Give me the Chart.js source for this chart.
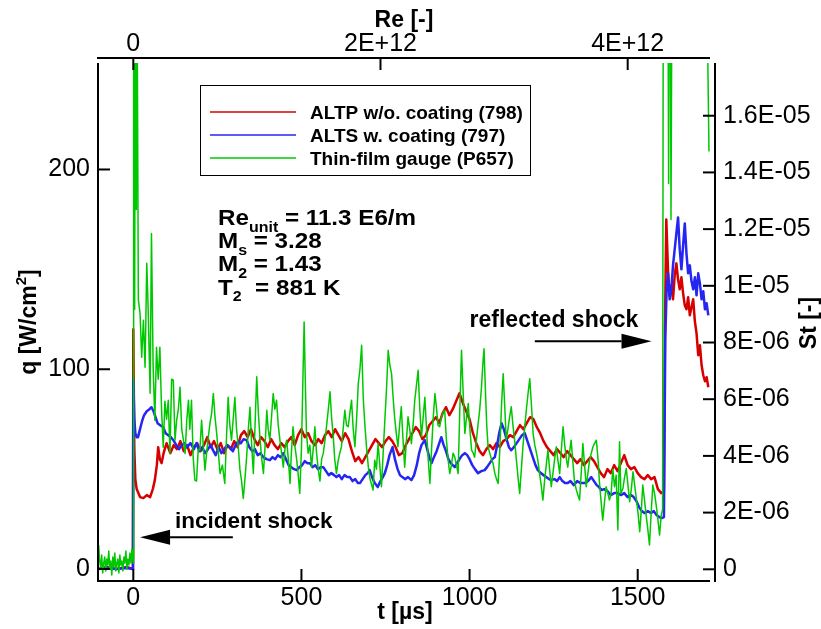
<!DOCTYPE html>
<html><head><meta charset="utf-8">
<script src="https://cdn.jsdelivr.net/npm/chart.js@4/dist/chart.umd.min.js"></script>
<style>html,body{margin:0;padding:0;background:#fff;}canvas{display:block;}</style>
</head><body>
<canvas id="c" width="821" height="629"></canvas>
<script>
// ---------- categories / labels ----------
const seriesNames = ['ALTP w/o. coating (798)', 'ALTS w. coating (797)', 'Thin-film gauge (P657)'];
const seriesColors = ['#d60000', '#2626f2', '#00c800'];
const tTicks = [0, 500, 1000, 1500];
const qTicks = [0, 100, 200];
const reTicks = [0, 2e12, 4e12];
const reTickLabels = ['0', '2E+12', '4E+12'];
const stTicks = [0, 2e-6, 4e-6, 6e-6, 8e-6, 1e-5, 1.2e-5, 1.4e-5, 1.6e-5];
const stTickLabels = ['0', '2E-06', '4E-06', '6E-06', '8E-06', '1E-05', '1.2E-05', '1.4E-05', '1.6E-05'];
const infoLines = [
  [['Re', ''], ['unit', 'sub'], [' = 11.3 E6/m', '']],
  [['M', ''], ['s', 'sub'], [' = 3.28', '']],
  [['M', ''], ['2', 'sub'], [' = 1.43', '']],
  [['T', ''], ['2', 'sub'], ['  = 881 K', '']]
];

// ---------- series values: [t (µs), q (W/cm²)] ----------
const altpData = [[-105,0],[-80,1],[-50,0],[-20,1],[-1,0],[0,120],[3,60],[6,45],[10,40],[15,38],[20,36],[30,35.5],[40,37],[50,36],[58,40],[64,44.5],[70,52],[74,61],[79,55],[84,53],[90,58],[99,63],
[110,58],[120,62],[130,60],[140,64],[150,59],[160,62],[170,57],[180,61],[190,63],[200,59],[210,62],[220,66],[230,61],[240,64],[250,60],[260,63],[270,58],[280,62],[290,60],[300,64],[310,61],[320,67],[330,69],[340,66],[350,70],[360,65],[370,62],[380,66],[390,64],[400,61],[410,65],[420,62],[430,60],[440,63],[450,61],[460,64],[470,66],[480,62],[490,67],[500,70],[510,66],[520,68],[530,64],[540,62],[550,65],[560,63],[570,67],[580,69],[590,66],[600,70],[610,67],[620,64],[630,68],[640,65],[650,59],[660,54],[670,56],[680,53],[690,56],[700,59],[710,62],[720,65],[730,63],[740,61],[750,64],[760,66],[770,64],[780,61],[790,57],[800,58],[810,62],[820,65],[830,68],[840,71],[850,69],[860,65],[870,67],[880,72],[890,74],[900,76],[910,73],[920,78],[930,81],[940,77],[950,80],[960,84],[970,88],[980,83],[990,79],[1000,75],[1010,68],[1020,63],[1030,59],[1040,57],[1050,60],[1060,62],[1070,60],[1080,63],[1090,61],[1100,64],[1110,65],[1120,67],[1130,66],[1140,69],[1150,72],[1160,70],[1170,73],[1180,76],[1190,75],[1200,71],[1210,68],[1220,64],[1230,61],[1240,59],[1250,57],[1260,60],[1270,58],[1280,56],[1290,59],[1300,57],[1310,55],[1320,53],[1330,55],[1340,52],[1350,54],[1360,56],[1370,54],[1380,51],[1390,48],[1400,46],[1410,50],[1420,48],[1430,52],[1440,49],[1450,53],[1460,57],[1470,52],[1480,50],[1490,51],[1500,48],[1510,46],[1520,45],[1530,47],[1540,45],[1550,46],[1560,40],[1570,38],[1578,39],[1581,120],[1585,175],[1590,150],[1595,137],[1600,142],[1605,135],[1610,147],[1615,153],[1620,145],[1625,140],[1630,146],[1635,138],[1640,132],[1645,130],[1650,136],[1655,127],[1660,131],[1665,135],[1670,124],[1675,118],[1680,107],[1685,112],[1690,102],[1695,97],[1700,94],[1705,96],[1710,91]];

const altsData = [[-105,0],[-80,0.5],[-50,0],[-20,0.5],[-1,0],[0,95],[3,75],[6,68],[10,66],[14,66],[20,70],[26,74],[32,77],[40,79],[48,80],[54,81],[60,79],[66,76],[72,73],[80,72],[89,71],[96,68],[104,67],[112,66],[119,64.5],[128,62],[136,60],[144,62],[152,63],[160,61],[170,63],[180,60],[188,63],[196,59],[205,61],[213,58],[222,60],[230,62],[237,59.5],[245,57],[254,61],[262,58],[270,60],[279,62],[287,61],[296,59],[304,62],[312,64],[320,63],[328,65],[337,64.5],[345,61],[354,59],[362,60],[370,57],[378,58],[387,56],[396,55],[406,54.5],[414,56],[422,55],[430,57],[438,56],[446,58],[454,55],[462,52],[470,51],[478,50],[486,49.5],[494,51],[502,52],[510,54],[518,53],[525,53],[533,51],[541,52],[549,50],[557,51],[565,51],[573,49],[581,47],[589,48],[597,47],[604,46],[612,47],[620,45],[628,47],[636,46],[644,46],[652,44],[660,45],[668,43],[674,43],[682,45],[690,47],[697,48],[703,49.5],[710,46],[718,43],[727,41],[735,44],[742,46],[748,48],[755,52],[762,57],[771,61],[778,55],[786,50],[793,47],[800,46],[808,45],[817,46],[827,44.5],[835,47],[843,52],[850,58],[857,62],[867,64.5],[874,60],[880,56],[887,53],[894,56],[902,59],[910,63],[916,66],[923,62],[930,59],[937,55],[944,53],[950,52],[956,51],[963,53],[970,55],[978,57],[986,58],[993,57],[1000,55],[1008,52],[1016,50],[1025,48],[1035,49],[1045,49.5],[1052,51],[1060,53],[1068,55],[1075,56],[1082,62],[1088,68],[1095,73],[1102,70],[1110,65],[1117,61],[1124,59.5],[1132,61],[1140,63],[1148,65],[1156,67],[1164,68],[1172,64],[1180,60],[1188,56],[1196,52],[1203,49.5],[1212,48],[1220,47],[1228,46],[1236,45],[1243,44.5],[1252,45],[1260,44],[1268,46],[1276,44],[1284,43],[1292,43],[1300,44],[1310,42],[1320,44],[1330,43],[1342,43],[1352,44],[1362,46],[1370,44],[1378,42],[1385,41],[1392,39.5],[1400,40],[1410,39],[1420,37],[1430,38],[1441,38],[1450,37],[1460,38],[1470,36],[1480,37],[1488,36],[1496,34],[1504,31],[1512,29],[1520,28],[1530,29],[1540,28],[1548,29],[1556,27],[1564,26],[1572,25.5],[1578,26],[1582,115],[1586,140],[1590,148],[1595,135],[1600,140],[1605,152],[1610,160],[1615,168],[1620,176],[1625,160],[1630,150],[1635,162],[1640,173],[1645,158],[1650,148],[1655,152],[1660,144],[1665,140],[1670,146],[1675,137],[1680,148],[1685,143],[1690,135],[1695,139],[1700,130],[1705,133],[1710,127]];

const tfgData = [[-103,12],[-100,4],[-97,1],[-94,7],[-91,-2],[-88,3],[-85,6],[-82,-1],[-79,5],[-76,2],[-73,9],[-70,0],[-67,4],[-64,-3],[-61,6],[-58,1],[-55,8],[-52,-1],[-49,3],[-46,5],[-43,-2],[-40,7],[-37,2],[-34,4],[-31,-1],[-28,6],[-25,3],[-22,9],[-19,0],[-16,5],[-13,2],[-10,8],[-7,3],[-4,10],[-1,4],
[0,3],[1,300],[4,130],[6,300],[9,180],[11,300],[15,135],[20,128],[25,106],[30,124.5],[35,101],[40,153],[44,131],[50,88],[54,168],[59,101],[64,74.5],[69,111],[74,95],[79,111],[84,80],[89,61],[94,84],[99,75],[104,84.5],[109,58],[114,95],[119,94.5],[124,64.5],[129,74.5],[134,80],[139,91],[144,70],[149,64.5],[154,57.8],[159,74.5],[164,84.5],[168,70],[173,84.5],[178,56],[183,44.5],[188,44],[193,60],[198,59.5],[203,74.5],[208,62],[213,49.5],[218,58],[223,66],[228,73],[233,78],[238,87.8],[243,76],[248,67.8],[253,58],[258,47.8],[265,52],[272,42.8],[277,65],[282,86],[287,72],[292,64.5],[297,75],[302,86],[307,70],[312,61.2],[317,50],[322,44],[327,35.3],[332,45],[337,56],[342,70],[347,81],[352,62],[357,47.8],[362,72],[367,96.2],[372,78],[377,64.5],[382,55],[387,47.8],[392,62],[397,79.5],[401,70],[406,64.5],[411,76],[416,87.8],[421,80],[426,84.5],[431,72],[436,64.5],[441,58],[446,51],[451,60],[456,64.5],[461,55],[466,42.8],[470,58],[475,71.2],[480,62],[485,56],[490,48],[495,37.8],[500,60],[505,100],[508,123.7],[512,90],[515,67.8],[520,58],[525,62],[530,51],[535,60],[540,71.2],[545,58],[550,50],[555,44],[560,55],[565,58],[570,64.5],[575,72],[580,80],[585,88.7],[590,75],[594,67.8],[599,55],[604,47.8],[609,54],[614,58],[619,61.2],[624,70],[629,79.5],[634,72],[639,71.2],[644,78],[649,84.5],[654,70],[659,61.2],[664,75],[669,92.8],[674,100],[679,112],[684,85],[689,71.2],[694,60],[699,51],[704,45],[709,42],[713,39.5],[718,54.5],[723,50],[728,62.8],[733,52],[738,41.2],[743,58],[748,74.5],[753,90],[758,109.5],[763,102],[768,97.8],[773,85],[777,76.2],[782,68],[787,61.2],[792,72],[797,81.2],[802,65],[807,51],[812,64],[817,76.2],[822,70],[827,62.8],[832,72],[837,84.5],[842,92],[847,99.5],[852,80],[857,66.2],[862,76],[867,86],[872,70],[877,55],[882,42.8],[887,60],[892,76],[897,87.8],[902,80],[906,72],[911,71.2],[916,76],[921,78],[926,79.5],[931,65],[936,55],[941,47.8],[946,52],[951,58],[956,56],[961,52],[966,47.8],[971,80],[976,109.5],[981,88],[986,67.8],[991,76],[996,82.8],[1001,70],[1006,59.5],[1011,58],[1015,56],[1020,64],[1025,72],[1030,79.5],[1035,90],[1040,104],[1043,110.3],[1047,90],[1051,72],[1055,61.2],[1060,58],[1065,55],[1070,52.8],[1075,48],[1080,45],[1085,42.8],[1090,60],[1095,82],[1100,97.8],[1105,80],[1109,64.5],[1114,70],[1119,76],[1124,81.2],[1129,72],[1134,64.5],[1139,55],[1144,46],[1149,37.8],[1154,50],[1159,62],[1164,71.2],[1169,80],[1174,88],[1179,95.3],[1184,82],[1189,67.8],[1194,62],[1199,58],[1203,54.5],[1208,48],[1213,42],[1218,34.5],[1223,44],[1228,52],[1233,59.5],[1238,50],[1243,41.2],[1248,48],[1253,55],[1258,61.2],[1263,54],[1268,47.8],[1273,60],[1278,71.2],[1283,62],[1288,55],[1292,51],[1297,58],[1302,64.5],[1307,54],[1312,44],[1317,40],[1322,37],[1327,34.5],[1332,48],[1337,62.8],[1342,52],[1347,41.2],[1352,48],[1357,54.5],[1362,58],[1367,61.2],[1372,63],[1377,64.5],[1382,55],[1386,44],[1391,34],[1396,24.5],[1401,33],[1406,41.2],[1411,38],[1416,34.5],[1421,38],[1426,50],[1431,41.2],[1436,47],[1441,19.5],[1446,63.7],[1450,37.8],[1456,40.3],[1461,46],[1466,50.3],[1471,42],[1476,33.7],[1481,40],[1486,48.7],[1491,42],[1496,35.3],[1501,28],[1506,18.7],[1511,30],[1515,42],[1520,35],[1525,27],[1530,20],[1535,12],[1540,28],[1545,42],[1550,38],[1555,32],[1560,25],[1565,17],[1570,27],[1574,30],[1576,300],[1590,300],[1592,193],[1594,300],[1597,300],[1599,175],[1602,300],[1705,300],[1712,209]];

// ---------- axis ranges ----------
const tRange = [-105, 1715];
const qRange = [-6, 253.3];
const reRange = [-2.856e11, 4.666e12];
const stRange = [-0.413e-6, 17.86e-6];

Chart.defaults.font.family = "'Liberation Sans', Arial, Helvetica, sans-serif";
Chart.defaults.color = '#000';

const FS = 25;
const tickFont = { size: FS, family: "'Liberation Sans', Arial, sans-serif" };

function setTicks(vals) { return s => { s.ticks = vals.map(v => ({ value: v })); }; }

function richText(ctx, x, y, segs, size, align, sx) {
  sx = sx || 1;
  const measure = [];
  let total = 0;
  for (const [txt, kind] of segs) {
    const fs = kind ? size * 0.66 : size;
    ctx.font = `bold ${fs}px 'Liberation Sans', Arial, sans-serif`;
    const w = ctx.measureText(txt).width;
    measure.push([txt, kind, fs, w]);
    total += w;
  }
  ctx.save();
  ctx.translate(x, y);
  ctx.scale(sx, 1);
  let cx = align === 'center' ? -total / 2 : 0;
  for (const [txt, kind, fs, w] of measure) {
    ctx.font = `bold ${fs}px 'Liberation Sans', Arial, sans-serif`;
    const dy = kind === 'sub' ? size * 0.3 : kind === 'sup' ? -size * 0.42 : 0;
    ctx.fillText(txt, cx, dy);
    cx += w;
  }
  ctx.restore();
}

const decorPlugin = {
  id: 'decor',
  afterDatasetsDraw(chart) {
    const { ctx, chartArea: a, scales } = chart;
    ctx.save();
    ctx.strokeStyle = '#000';
    ctx.fillStyle = '#000';
    ctx.lineWidth = 2;
    const seg = (x1, y1, x2, y2) => { ctx.beginPath(); ctx.moveTo(x1, y1); ctx.lineTo(x2, y2); ctx.stroke(); };
    const off = 5, TL = 12;
    // axis lines
    seg(a.left - 1, a.bottom, a.right, a.bottom);
    seg(a.left, a.top, a.left, a.bottom + 1);
    seg(a.left - 1, a.top - off, a.right, a.top - off);
    seg(a.right + off, a.top, a.right + off, a.bottom + 1);
    // tick marks (inward)
    scales.x.ticks.forEach(t => { const p = scales.x.getPixelForValue(t.value); seg(p, a.bottom, p, a.bottom - TL); });
    scales.x2.ticks.forEach(t => { const p = scales.x2.getPixelForValue(t.value); seg(p, a.top - off, p, a.top - off + TL); });
    scales.y.ticks.forEach(t => { const p = scales.y.getPixelForValue(t.value); seg(a.left, p, a.left + TL, p); });
    scales.y2.ticks.forEach(t => { const p = scales.y2.getPixelForValue(t.value); seg(a.right + off, p, a.right + off - TL, p); });

    // arrows (positioned in data units)
    const X = v => scales.x.getPixelForValue(v), Y = v => scales.y.getPixelForValue(v);
    function arrow(t1, t2, q) {
      const x1 = X(t1), x2 = X(t2), y = Y(q);
      const dir = Math.sign(x2 - x1);
      const head = 30, hw = 7.5;
      seg(x1, y, x2 - dir * head, y);
      ctx.beginPath(); ctx.moveTo(x2, y); ctx.lineTo(x2 - dir * head, y - hw); ctx.lineTo(x2 - dir * head, y + hw); ctx.closePath(); ctx.fill();
    }
    arrow(296, 20, 15.9);
    arrow(1194, 1541, 114);
    ctx.font = "bold 22.5px 'Liberation Sans', Arial, sans-serif";
    ctx.textBaseline = 'alphabetic';
    ctx.textAlign = 'left';
    ctx.fillText('incident shock', X(124), Y(20.5));
    ctx.font = "bold 23px 'Liberation Sans', Arial, sans-serif";
    ctx.fillText('reflected shock', X(1000), Y(121));

    // info block
    infoLines.forEach((ln, i) => richText(ctx, 218, 225 + i * 23.2, ln, 22, 'left', 1.1));

    // legend
    ctx.lineWidth = 1;
    ctx.fillStyle = '#fff';
    ctx.fillRect(200, 85, 330, 90);
    ctx.strokeRect(200.5, 85.5, 330, 90);
    ctx.font = "bold 19px 'Liberation Sans', Arial, sans-serif";
    chart.data.datasets.forEach((ds, i) => {
      const ly = 112 + i * 23;
      ctx.strokeStyle = ds.borderColor; ctx.lineWidth = 1.5;
      seg(210, ly, 296, ly);
      ctx.fillStyle = '#000';
      ctx.fillText(ds.label, 310, ly + 6.5);
    });

    // axis titles
    ctx.fillStyle = '#000';
    richText(ctx, 404, 27, [['Re [-]', '']], 23, 'center');
    richText(ctx, 405, 619, [['t [µs]', '']], 23, 'center');
    ctx.save(); ctx.translate(36, 322); ctx.rotate(-Math.PI / 2);
    richText(ctx, 0, 0, [['q [W/cm', ''], ['2', 'sup'], [']', '']], 23, 'center');
    ctx.restore();
    ctx.save(); ctx.translate(816, 323); ctx.rotate(-Math.PI / 2);
    richText(ctx, 0, 0, [['St [-]', '']], 23, 'center');
    ctx.restore();
    ctx.restore();
  }
};

const mk = (arr) => arr.map(([x, y]) => ({ x, y }));

new Chart(document.getElementById('c'), {
  type: 'line',
  data: {
    datasets: [
      { label: seriesNames[0], data: mk(altpData), borderColor: seriesColors[0], borderWidth: 2.5, order: 2 },
      { label: seriesNames[1], data: mk(altsData), borderColor: seriesColors[1], borderWidth: 2.5, order: 1 },
      { label: seriesNames[2], data: mk(tfgData), borderColor: seriesColors[2], borderWidth: 1.5, order: 0 }
    ]
  },
  options: {
    responsive: false,
    animation: false,
    events: [],
    devicePixelRatio: 1,
    layout: { padding: 0 },
    elements: { point: { radius: 0 }, line: { tension: 0, borderJoinStyle: 'round' } },
    plugins: { legend: { display: false }, tooltip: { enabled: false } },
    scales: {
      x: {
        type: 'linear', position: 'bottom', min: tRange[0], max: tRange[1],
        afterBuildTicks: setTicks(tTicks),
        afterFit: s => { s.height = 48; },
        grid: { display: false, drawTicks: false }, border: { display: false },
        ticks: { font: tickFont, padding: 2, maxRotation: 0, autoSkip: false, callback: v => String(v) }
      },
      x2: {
        type: 'linear', position: 'top', min: reRange[0], max: reRange[1],
        afterBuildTicks: setTicks(reTicks),
        afterFit: s => { s.height = 63; },
        grid: { display: false, drawTicks: false }, border: { display: false },
        ticks: { font: tickFont, padding: 4, maxRotation: 0, autoSkip: false, callback: (v, i) => reTickLabels[i] }
      },
      y: {
        type: 'linear', position: 'left', min: qRange[0], max: qRange[1],
        afterBuildTicks: setTicks(qTicks),
        afterFit: s => { s.width = 98; },
        grid: { display: false, drawTicks: false }, border: { display: false },
        ticks: { font: tickFont, padding: 8, autoSkip: false, callback: v => String(v) }
      },
      y2: {
        type: 'linear', position: 'right', min: stRange[0], max: stRange[1],
        afterBuildTicks: setTicks(stTicks),
        afterFit: s => { s.width = 111; },
        grid: { display: false, drawTicks: false }, border: { display: false },
        ticks: { font: tickFont, padding: 13, autoSkip: false, callback: (v, i) => stTickLabels[i] }
      }
    }
  },
  plugins: [decorPlugin]
});
</script>
</body></html>
